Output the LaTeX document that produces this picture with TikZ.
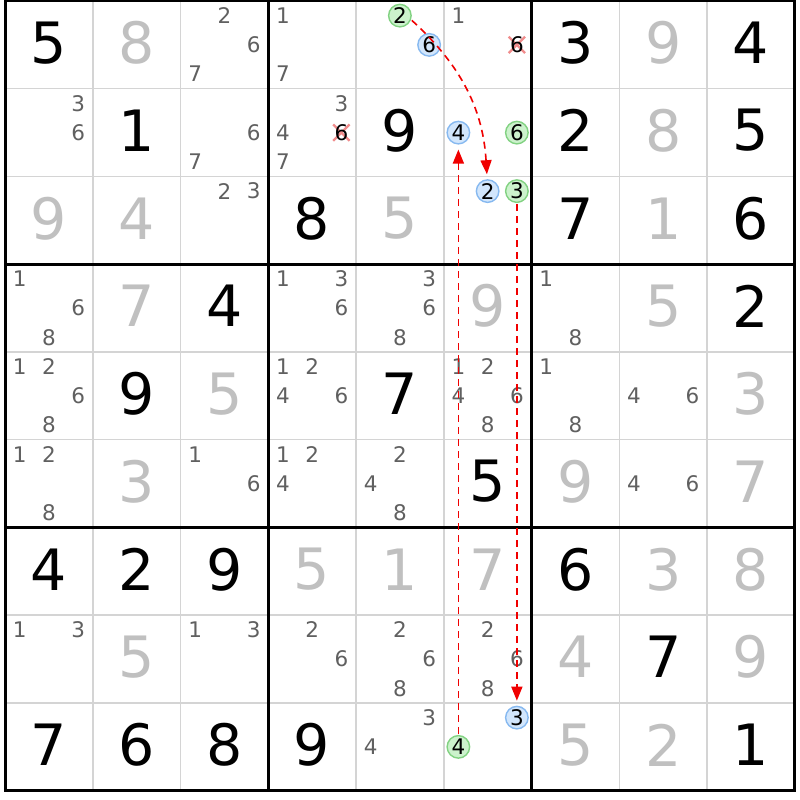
\documentclass[tikz,border=0pt]{standalone}
\usepackage{fontspec}
\setmainfont{DejaVu Sans}
\usetikzlibrary{arrows.meta}
\definecolor{solvedgray}{RGB}{192,192,192}
\definecolor{candgray}{RGB}{96,96,96}
\definecolor{gridgray}{RGB}{212,212,212}
\definecolor{hlgreenfill}{RGB}{204,242,204}
\definecolor{hlgreendraw}{RGB}{130,210,130}
\definecolor{hlbluefill}{RGB}{210,230,252}
\definecolor{hlbluedraw}{RGB}{135,185,240}
\definecolor{xpink}{RGB}{240,140,140}
\definecolor{linkred}{RGB}{240,0,0}
\def\cellsz{87.75}
\newcommand{\setpos}[3]{%
  \pgfmathsetmacro\cx{5+(#2-0.5)*\cellsz+(mod(#3-1,3)-1)*\cellsz/3}%
  \pgfmathsetmacro\cy{799-(#1-0.5)*\cellsz-(floor((#3-1)/3)-1)*\cellsz/3}}
\newcommand{\Gv}[3]{\node[given] (g#1#2) at ({5+(#2-0.5)*\cellsz},{801-(#1-0.5)*\cellsz}) {#3};}
\newcommand{\Sv}[3]{\node[solved] (g#1#2) at ({5+(#2-0.5)*\cellsz},{801-(#1-0.5)*\cellsz}) {#3};}
\newcommand{\Cd}[3]{\foreach \n in {#3}{\setpos{#1}{#2}{\n}\node[cand] (c#1#2\n) at (\cx,\cy) {\n};}}
\newcommand{\Hc}[4]{\setpos{#2}{#3}{#4}\node[#1] (h#2#3#4) at (\cx,\cy) {#4};}
\newcommand{\Xc}[3]{\setpos{#1}{#2}{#3}\node[xbox] (x#1#2#3) at (\cx,\cy) {};
  \draw[xline] (x#1#2#3.south west) -- (x#1#2#3.north east) (x#1#2#3.north west) -- (x#1#2#3.south east);
  \node[cand,text=black] (c#1#2#3) at (\cx,\cy) {#3};}
\begin{document}
\begin{tikzpicture}[x=1pt,y=1pt,
  given/.style={inner sep=0pt, font=\fontsize{57}{57}\selectfont, text=black},
  solved/.style={given, text=solvedgray},
  cand/.style={inner sep=0pt, font=\fontsize{21.5}{21.5}\selectfont, text=candgray},
  hlgreen/.style={circle, draw=hlgreendraw, fill=hlgreenfill, line width=1.4pt, minimum size=22.5pt, inner sep=0pt, font=\fontsize{21.5}{21.5}\selectfont, text=black},
  hlblue/.style={hlgreen, draw=hlbluedraw, fill=hlbluefill},
  xbox/.style={inner sep=0pt, minimum size=16pt},
  xline/.style={draw=xpink, line width=2.2pt},
  thinline/.style={draw=gridgray, line width=1.5pt},
  thickline/.style={draw=black, line width=3pt},
  link/.style={draw=linkred, line width=1.6pt, dash pattern=on 7pt off 5pt, -{Triangle[length=14pt,width=11pt]}, shorten >=5pt, shorten <=1pt}
]
\useasboundingbox (0,0) rectangle (800,800);
\fill[white] (0,0) rectangle (800,800);
% thin grid lines
\foreach \i in {1,2,4,5,7,8}{
  \draw[thinline] ({5+\i*\cellsz},799) -- ({5+\i*\cellsz},{799-9*\cellsz});
  \draw[thinline] (5,{799-\i*\cellsz}) -- ({5+9*\cellsz},{799-\i*\cellsz});
}
% thick grid lines
\foreach \i in {3,6}{
  \draw[thickline] ({5+\i*\cellsz},799) -- ({5+\i*\cellsz},{799-9*\cellsz});
  \draw[thickline] (5,{799-\i*\cellsz}) -- ({5+9*\cellsz},{799-\i*\cellsz});
}
\draw[thickline] (5,799) rectangle ({5+9*\cellsz},{799-9*\cellsz});
% row 1
\Gv{1}{1}{5} \Sv{1}{2}{8} \Cd{1}{3}{2,6,7} \Cd{1}{4}{1,7} \Hc{hlgreen}{1}{5}{2} \Hc{hlblue}{1}{5}{6} \Cd{1}{6}{1} \Xc{1}{6}{6} \Gv{1}{7}{3} \Sv{1}{8}{9} \Gv{1}{9}{4}
% row 2
\Cd{2}{1}{3,6} \Gv{2}{2}{1} \Cd{2}{3}{6,7} \Cd{2}{4}{3,4,7} \Xc{2}{4}{6} \Gv{2}{5}{9} \Hc{hlblue}{2}{6}{4} \Hc{hlgreen}{2}{6}{6} \Gv{2}{7}{2} \Sv{2}{8}{8} \Gv{2}{9}{5}
% row 3
\Sv{3}{1}{9} \Sv{3}{2}{4} \Cd{3}{3}{2,3} \Gv{3}{4}{8} \Sv{3}{5}{5} \Hc{hlblue}{3}{6}{2} \Hc{hlgreen}{3}{6}{3} \Gv{3}{7}{7} \Sv{3}{8}{1} \Gv{3}{9}{6}
% row 4
\Cd{4}{1}{1,6,8} \Sv{4}{2}{7} \Gv{4}{3}{4} \Cd{4}{4}{1,3,6} \Cd{4}{5}{3,6,8} \Sv{4}{6}{9} \Cd{4}{7}{1,8} \Sv{4}{8}{5} \Gv{4}{9}{2}
% row 5
\Cd{5}{1}{1,2,6,8} \Gv{5}{2}{9} \Sv{5}{3}{5} \Cd{5}{4}{1,2,4,6} \Gv{5}{5}{7} \Cd{5}{6}{1,2,4,6,8} \Cd{5}{7}{1,8} \Cd{5}{8}{4,6} \Sv{5}{9}{3}
% row 6
\Cd{6}{1}{1,2,8} \Sv{6}{2}{3} \Cd{6}{3}{1,6} \Cd{6}{4}{1,2,4} \Cd{6}{5}{2,4,8} \Gv{6}{6}{5} \Sv{6}{7}{9} \Cd{6}{8}{4,6} \Sv{6}{9}{7}
% row 7
\Gv{7}{1}{4} \Gv{7}{2}{2} \Gv{7}{3}{9} \Sv{7}{4}{5} \Sv{7}{5}{1} \Sv{7}{6}{7} \Gv{7}{7}{6} \Sv{7}{8}{3} \Sv{7}{9}{8}
% row 8
\Cd{8}{1}{1,3} \Sv{8}{2}{5} \Cd{8}{3}{1,3} \Cd{8}{4}{2,6} \Cd{8}{5}{2,6,8} \Cd{8}{6}{2,6,8} \Sv{8}{7}{4} \Gv{8}{8}{7} \Sv{8}{9}{9}
% row 9
\Gv{9}{1}{7} \Gv{9}{2}{6} \Gv{9}{3}{8} \Gv{9}{4}{9} \Cd{9}{5}{3,4} \Hc{hlblue}{9}{6}{3} \Hc{hlgreen}{9}{6}{4} \Sv{9}{7}{5} \Sv{9}{8}{2} \Gv{9}{9}{1}
% links
\draw[link] (h152.-20) to[bend left=22] (h362);
\draw[link] (h363) -- (h963);
\draw[link] (h964) -- (h264);
\end{tikzpicture}
\end{document}
